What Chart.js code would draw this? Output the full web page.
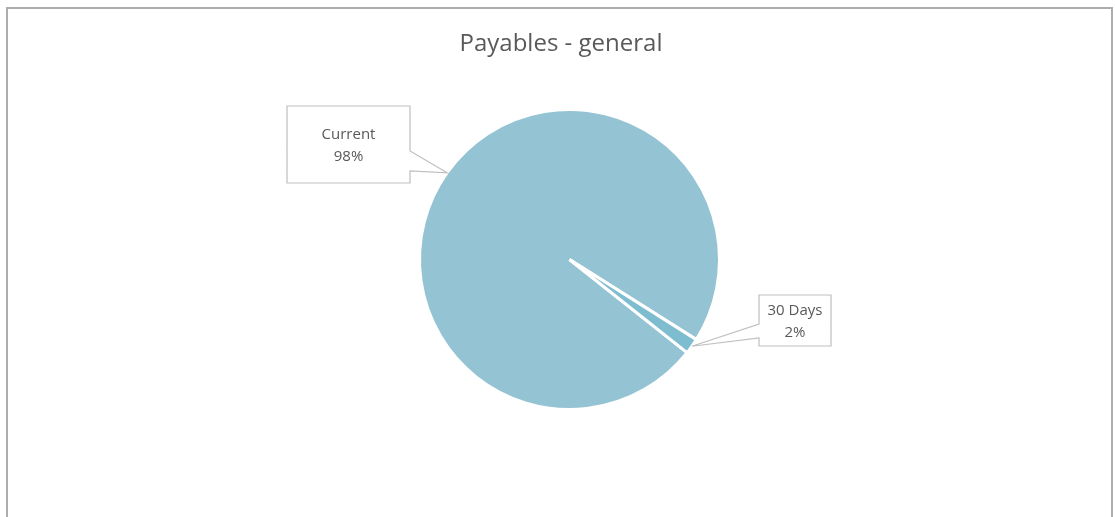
<!DOCTYPE html>
<html>
<head>
<meta charset="utf-8">
<script src="https://cdn.jsdelivr.net/npm/chart.js@4/dist/chart.umd.min.js"></script>
<style>
  body { margin: 0; background: #fff; overflow: hidden; }
  #frame { position: absolute; left: 6px; top: 7px; width: 1103px; height: 560px; border: 2px solid #adadad; }
  #wrap { position: absolute; left: 0; top: 0; width: 1115px; height: 517px; }
</style>
</head>
<body>
<div id="frame"></div>
<div id="wrap"><canvas id="pie"></canvas></div>
<script>
var labels = ["Current", "30 Days"];
var values = [98.3, 1.7];
var pctLabels = ["98%", "2%"];
var colors = ["#94c3d4", "#7ebcd0"];
var chartTitle = "Payables - general";

var textColor = "#595959";
var fontFamily = "'Open Sans', 'Liberation Sans', sans-serif";

// callout boxes: box rect + side of the pointer notch
var callouts = [
    { x: 287, y: 106, w: 123, h: 77, side: "right", n1: 151, n2: 171 },
    { x: 759, y: 295, w: 72, h: 51, side: "left", n1: 324, n2: 338 }
];

var calloutPlugin = {
    id: "callouts",
    afterDraw: function(chart) {
        var ctx = chart.ctx;
        var meta = chart.getDatasetMeta(0);

        // title
        ctx.save();
        ctx.fillStyle = textColor;
        ctx.font = "24px " + fontFamily;
        ctx.textAlign = "center";
        ctx.textBaseline = "middle";
        ctx.fillText(chartTitle, 561, 44);
        ctx.restore();

        meta.data.forEach(function(arc, i) {
            var p = arc.getProps(["x", "y", "startAngle", "endAngle", "outerRadius"], true);
            var mid = (p.startAngle + p.endAngle) / 2;
            var tx = p.x + Math.cos(mid) * p.outerRadius;
            var ty = p.y + Math.sin(mid) * p.outerRadius;
            var c = callouts[i];

            ctx.save();
            ctx.strokeStyle = "#bfbfbf";
            ctx.lineWidth = 1.2;
            ctx.fillStyle = "#ffffff";
            ctx.beginPath();
            ctx.moveTo(c.x, c.y);
            ctx.lineTo(c.x + c.w, c.y);
            if (c.side == "right") {
                ctx.lineTo(c.x + c.w, c.n1);
                ctx.lineTo(tx, ty);
                ctx.lineTo(c.x + c.w, c.n2);
            }
            ctx.lineTo(c.x + c.w, c.y + c.h);
            ctx.lineTo(c.x, c.y + c.h);
            if (c.side == "left") {
                ctx.lineTo(c.x, c.n2);
                ctx.lineTo(tx, ty);
                ctx.lineTo(c.x, c.n1);
            }
            ctx.closePath();
            ctx.fill();
            ctx.stroke();

            ctx.fillStyle = textColor;
            ctx.font = "15px " + fontFamily;
            ctx.textAlign = "center";
            ctx.textBaseline = "middle";
            var cx = c.x + c.w / 2;
            var cy = c.y + c.h / 2;
            ctx.fillText(labels[i], cx, cy - 10);
            ctx.fillText(pctLabels[i], cx, cy + 12);
            ctx.restore();
        });
    }
};

new Chart(document.getElementById("pie"), {
    type: "pie",
    data: {
        labels: labels,
        datasets: [{
            data: values,
            backgroundColor: colors,
            borderColor: "#ffffff",
            borderWidth: 3,
            hoverOffset: 0
        }]
    },
    options: {
        responsive: true,
        maintainAspectRatio: false,
        animation: false,
        devicePixelRatio: 1,
        rotation: 128.4,
        layout: {
            padding: { top: 107.5, bottom: 105.5, left: 418, right: 394 }
        },
        plugins: {
            legend: { display: false },
            tooltip: { enabled: false },
            title: { display: false }
        },
        events: []
    },
    plugins: [calloutPlugin]
});
</script>
</body>
</html>
